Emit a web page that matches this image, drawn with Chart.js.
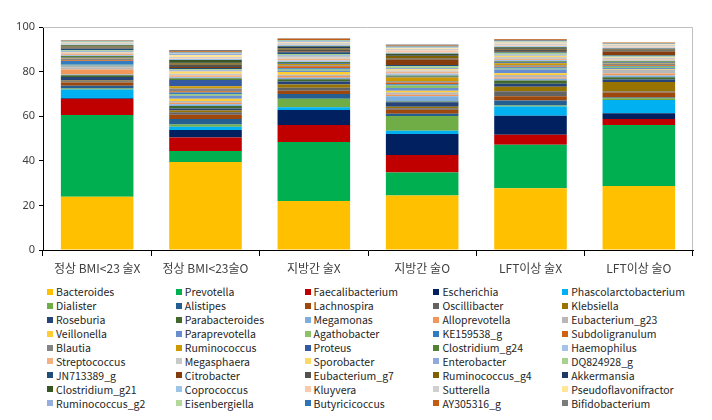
<!DOCTYPE html>
<html>
<head>
<meta charset="utf-8">
<script src="https://cdn.jsdelivr.net/npm/chart.js@4"></script>
<style>
  body { margin: 0; background: #fff; width: 712px; height: 420px; overflow: hidden; position: relative; }
  #wrap { position: absolute; left: 0; top: 0; width: 712px; height: 280px; }
  #legend { position: absolute; left: 47px; top: 285px; display: grid; grid-template-columns: repeat(5, 128.8px); grid-auto-rows: 13.9px;
    font-family: 'Noto Sans CJK KR', 'Noto Sans', sans-serif; font-size: 10.5px; color: #262626; }
  #legend .item { display: flex; align-items: center; white-space: nowrap; }
  #legend .box { width: 6px; height: 6px; margin-right: 3px; flex: none; }
</style>
</head>
<body>
<div id="wrap"><canvas id="chart" width="712" height="280"></canvas></div>
<div id="legend"></div>
<script>
// groups on the x axis
const groups = ['정상 BMI<23 술X', '정상 BMI<23술O', '지방간 술X', '지방간 술O', 'LFT이상 술X', 'LFT이상 술O'];

// genera, in legend order (bottom of the stack first)
const genera = [
  'Bacteroides', 'Prevotella', 'Faecalibacterium', 'Escherichia', 'Phascolarctobacterium',
  'Dialister', 'Alistipes', 'Lachnospira', 'Oscillibacter', 'Klebsiella',
  'Roseburia', 'Parabacteroides', 'Megamonas', 'Alloprevotella', 'Eubacterium_g23',
  'Veillonella', 'Paraprevotella', 'Agathobacter', 'KE159538_g', 'Subdoligranulum',
  'Blautia', 'Ruminococcus', 'Proteus', 'Clostridium_g24', 'Haemophilus',
  'Streptococcus', 'Megasphaera', 'Sporobacter', 'Enterobacter', 'DQ824928_g',
  'JN713389_g', 'Citrobacter', 'Eubacterium_g7', 'Ruminococcus_g4', 'Akkermansia',
  'Clostridium_g21', 'Coprococcus', 'Kluyvera', 'Sutterella', 'Pseudoflavonifractor',
  'Ruminococcus_g2', 'Eisenbergiella', 'Butyricicoccus', 'AY305316_g', 'Bifidobacterium'
];

const colors = [
  '#FFC000', '#00B050', '#C00000', '#002060', '#00B0F0',
  '#70AD47', '#255E91', '#9E480E', '#636363', '#997300',
  '#264478', '#43682B', '#7CAFDD', '#F1975A', '#B7B7B7',
  '#FFCD33', '#698ED0', '#8CC168', '#327DC2', '#D26012',
  '#848484', '#CC9A00', '#335AA1', '#548235', '#A5C3E6',
  '#F4B183', '#C9C9C9', '#FFD966', '#8FAADC', '#A9D18E',
  '#1F4E79', '#843C0C', '#525252', '#7F6000', '#203864',
  '#375623', '#9DC3E6', '#F8CBAD', '#D0D0D0', '#FFE699',
  '#96AEDD', '#B4D79A', '#2E75B6', '#C55A11', '#7B7B7B'
];

// relative abundance (%) per group, same order as genera
const bmiX = [23.9, 36.6, 7.2, 0.3, 4.0,
  0.4, 1.2, 1.5, 0.6, 0.3, 1.6, 0.8, 0.3, 2.2, 1.0, 0.3, 0.5, 0.4, 1.6, 0.4,
  0.8, 0.3, 0.4, 0.4, 0.5, 0.6, 0.5, 0.2, 0.3, 0.5, 0.6, 0.2, 0.4, 0.4, 0.2,
  0.4, 0.3, 0.3, 0.4, 0.3, 0.2, 0.2, 0.2, 0.1, 0.3];
const bmiO = [39.5, 4.9, 6.0, 3.4, 1.5,
  1.0, 2.5, 1.8, 1.2, 0.8, 0.8, 1.2, 0.8, 0.6, 0.8, 1.0, 1.4, 0.6, 0.8, 0.6,
  1.2, 1.0, 2.8, 0.8, 0.6, 0.8, 0.6, 1.0, 0.6, 0.4, 0.6, 0.5, 1.0, 0.6, 0.3,
  1.2, 0.4, 0.4, 0.5, 1.0, 0.6, 0.3, 0.3, 0.4, 0.6];
const fattyX = [22.0, 26.4, 7.7, 6.7, 1.2,
  3.8, 2.2, 1.4, 1.4, 1.4, 1.4, 1.0, 0.6, 0.8, 0.6, 1.2, 0.6, 0.5, 0.6, 0.9,
  0.5, 0.5, 0.4, 0.5, 0.7, 0.8, 0.6, 0.3, 0.6, 0.6, 0.8, 0.3, 0.8, 0.6, 0.6,
  0.4, 0.6, 0.4, 0.5, 0.4, 0.3, 0.3, 0.3, 0.5, 0.2];
const fattyO = [24.4, 10.4, 7.8, 9.4, 1.5,
  6.6, 1.0, 1.8, 0.7, 0.6, 2.0, 0.4, 2.4, 0.6, 1.0, 0.8, 1.2, 1.2, 0.5, 0.8,
  0.6, 1.6, 0.4, 0.6, 0.8, 0.8, 0.6, 0.6, 0.5, 0.8, 0.6, 2.4, 0.5, 1.2, 0.4,
  0.5, 0.4, 1.2, 0.5, 0.4, 0.3, 0.3, 0.3, 0.3, 0.5];
const lftX = [27.7, 19.5, 4.5, 8.5, 4.1,
  0.5, 2.2, 2.0, 2.2, 2.0, 1.4, 1.4, 0.8, 0.5, 1.2, 0.8, 1.6, 0.5, 0.5, 0.4,
  0.6, 0.9, 0.4, 0.4, 0.6, 0.5, 0.9, 0.5, 0.6, 0.8, 0.4, 0.3, 0.6, 0.5, 0.3,
  0.3, 0.5, 0.4, 0.8, 0.4, 0.4, 0.3, 0.3, 0.5, 0.1];
const lftO = [28.7, 27.4, 2.6, 2.6, 6.0,
  0.7, 0.4, 2.2, 0.5, 4.2, 1.2, 1.0, 0.8, 0.9, 1.6, 0.3, 0.5, 0.6, 0.3, 0.3,
  0.7, 0.3, 0.3, 0.5, 0.4, 0.4, 0.8, 0.2, 0.3, 0.4, 0.3, 1.6, 0.6, 0.3, 0.3,
  0.2, 0.3, 0.6, 0.6, 0.2, 0.2, 0.2, 0.2, 0.3, 0.1];

const yTicks = [0, 20, 40, 60, 80, 100];

const byGroup = [bmiX, bmiO, fattyX, fattyO, lftX, lftO];
const datasets = genera.map((g, i) => ({
  label: g,
  data: byGroup.map(arr => arr[i]),
  backgroundColor: colors[i],
  borderWidth: 0,
  barPercentage: 0.67,
  categoryPercentage: 1
}));

// light grey frame on top and right of the plot, like the Excel chart
const frame = {
  id: 'frame',
  beforeDatasetsDraw(chart) {
    const { ctx, chartArea: a } = chart;
    ctx.save();
    ctx.strokeStyle = '#BFBFBF';
    ctx.lineWidth = 1;
    ctx.beginPath();
    ctx.moveTo(a.left, a.top + 0.5);
    ctx.lineTo(a.right - 0.5, a.top + 0.5);
    ctx.lineTo(a.right - 0.5, a.bottom);
    ctx.stroke();
    ctx.restore();
  }
};

new Chart(document.getElementById('chart'), {
  type: 'bar',
  data: { labels: groups, datasets },
  options: {
    responsive: false,
    animation: false,
    devicePixelRatio: 1,
    layout: { padding: { top: 27, right: 19, left: 0, bottom: 0 } },
    plugins: { legend: { display: false }, tooltip: { enabled: false } },
    scales: {
      x: {
        stacked: true,
        offset: true,
        grid: { offset: true, drawOnChartArea: false, drawTicks: true, tickLength: 6, color: '#000' },
        border: { color: '#000', width: 1 },
        ticks: { color: '#404040', padding: 5, font: { family: "'Noto Sans CJK KR', sans-serif", size: 12 }, maxRotation: 0 },
        afterFit(s) { s.height = 30; }
      },
      y: {
        stacked: true,
        min: 0,
        max: 100,
        afterBuildTicks(s) { s.ticks = yTicks.map(v => ({ value: v })); },
        grid: { drawOnChartArea: false, drawTicks: true, tickLength: 4, color: '#000' },
        border: { color: '#000', width: 1 },
        ticks: { color: '#404040', padding: 4, font: { family: "'Noto Sans', sans-serif", size: 11 } },
        afterFit(s) { s.width = 43; }
      }
    }
  },
  plugins: [frame]
});

// legend in five columns, row by row
document.getElementById('legend').innerHTML = genera.map((g, i) =>
  `<div class="item"><span class="box" style="background:${colors[i]}"></span>${g}</div>`).join('');
</script>
</body>
</html>
